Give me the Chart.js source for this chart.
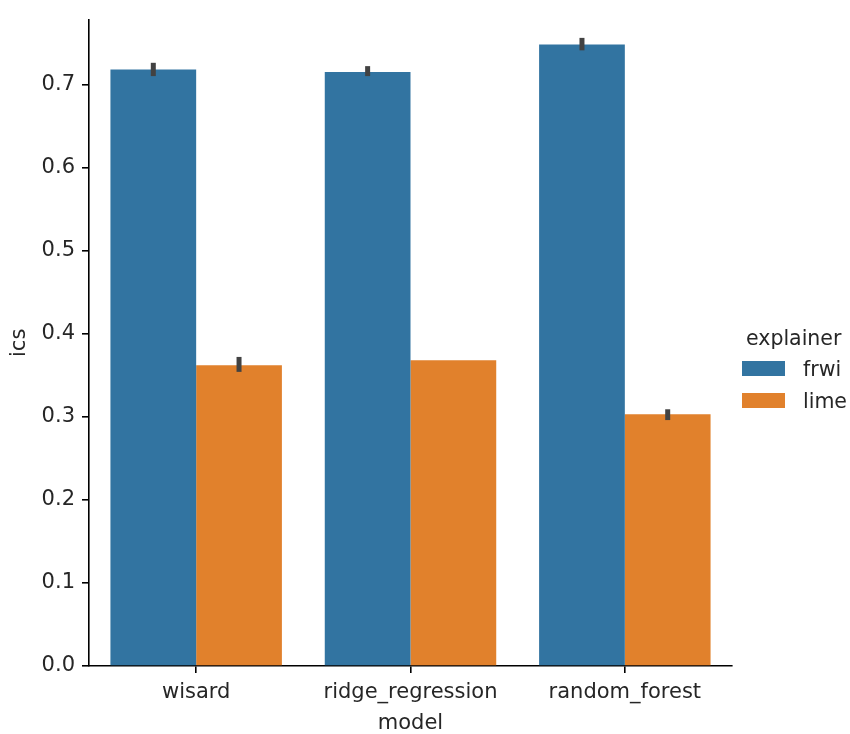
<!DOCTYPE html>
<html>
<head>
<meta charset="utf-8">
<script src="https://cdn.jsdelivr.net/npm/chart.js@4/dist/chart.umd.min.js"></script>
<style>
  body { margin: 0; background: #fff; }
  #wrap { width: 850px; height: 734px; }
</style>
</head>
<body>
<div id="wrap"><canvas id="c" width="850" height="734"></canvas></div>
<script>
// data
const models = ["wisard", "ridge_regression", "random_forest"];
const explainers = ["frwi", "lime"];
const frwiValues = [0.718, 0.715, 0.748];
const limeValues = [0.362, 0.368, 0.303];
// confidence interval ends (low, high)
const frwiLow = [0.710, 0.710, 0.741];
const frwiHigh = [0.726, 0.722, 0.756];
const limeLow = [0.354, 0.368, 0.296];
const limeHigh = [0.372, 0.368, 0.309];
const yTicks = [0, 0.1, 0.2, 0.3, 0.4, 0.5, 0.6, 0.7];

const blue = "#3274a1";
const orange = "#e1812c";
const font = "'DejaVu Sans', sans-serif";

// error bars drawn on top of each bar
const errorBars = {
    id: "errorBars",
    afterDatasetsDraw(chart) {
        const ctx = chart.ctx;
        const y = chart.scales.y;
        chart.data.datasets.forEach((ds, i) => {
            const meta = chart.getDatasetMeta(i);
            meta.data.forEach((bar, j) => {
                const lo = y.getPixelForValue(ds.errLow[j]);
                const hi = y.getPixelForValue(ds.errHigh[j]);
                if (Math.abs(lo - hi) < 0.5) return;
                ctx.save();
                ctx.strokeStyle = "#424242";
                ctx.lineWidth = 5;
                ctx.beginPath();
                ctx.moveTo(bar.x, lo);
                ctx.lineTo(bar.x, hi);
                ctx.stroke();
                ctx.restore();
            });
        });
    }
};

// seaborn style legend outside on the right
const sideLegend = {
    id: "sideLegend",
    afterDraw(chart) {
        const ctx = chart.ctx;
        ctx.save();
        ctx.font = "20.5px " + font;
        ctx.fillStyle = "#262626";
        ctx.textBaseline = "middle";
        ctx.textAlign = "left";
        ctx.fillText("explainer", 746, 340);
        chart.data.datasets.forEach((ds, i) => {
            const cy = 368.5 + i * 32;
            ctx.fillStyle = ds.backgroundColor;
            ctx.fillRect(742, cy - 7.5, 43, 15);
            ctx.fillStyle = "#262626";
            ctx.fillText(ds.label, 803, cy + 2);
        });
        ctx.restore();
    }
};

new Chart(document.getElementById("c"), {
    type: "bar",
    data: {
        labels: models,
        datasets: [
            { label: explainers[0], data: frwiValues, errLow: frwiLow, errHigh: frwiHigh,
              backgroundColor: blue, borderWidth: 0 },
            { label: explainers[1], data: limeValues, errLow: limeLow, errHigh: limeHigh,
              backgroundColor: orange, borderWidth: 0 }
        ]
    },
    options: {
        responsive: false,
        animation: false,
        layout: { padding: { top: 18, right: 118, left: 0, bottom: 0 } },
        plugins: { legend: { display: false }, tooltip: { enabled: false } },
        datasets: { bar: { categoryPercentage: 0.8, barPercentage: 1.0 } },
        scales: {
            x: {
                offset: true,
                grid: { offset: false, drawOnChartArea: false, drawTicks: true, tickLength: 7, color: "#000", lineWidth: 1.6 },
                border: { display: true, color: "#000", width: 1.6 },
                ticks: { padding: 7, color: "#262626", font: { family: font, size: 21 } },
                title: { display: true, text: "model", color: "#262626", font: { family: font, size: 21, lineHeight: 1.0 }, padding: { top: 0, bottom: 0 } },
                afterFit(s) { s.height = 68; }
            },
            y: {
                min: 0,
                max: 0.778,
                grid: { drawOnChartArea: false, drawTicks: true, tickLength: 7, color: "#000", lineWidth: 1.6 },
                border: { display: true, color: "#000", width: 1.6 },
                afterBuildTicks(s) { s.ticks = yTicks.map(v => ({ value: v })); },
                ticks: {
                    padding: 7,
                    color: "#262626",
                    font: { family: font, size: 21 },
                    callback: v => Number(v).toFixed(1)
                },
                title: { display: true, text: "ics", color: "#262626", font: { family: font, size: 21 }, padding: { top: 7, bottom: 0 } },
                afterFit(s) { s.width = 89; }
            }
        }
    },
    plugins: [errorBars, sideLegend]
});
</script>
</body>
</html>
